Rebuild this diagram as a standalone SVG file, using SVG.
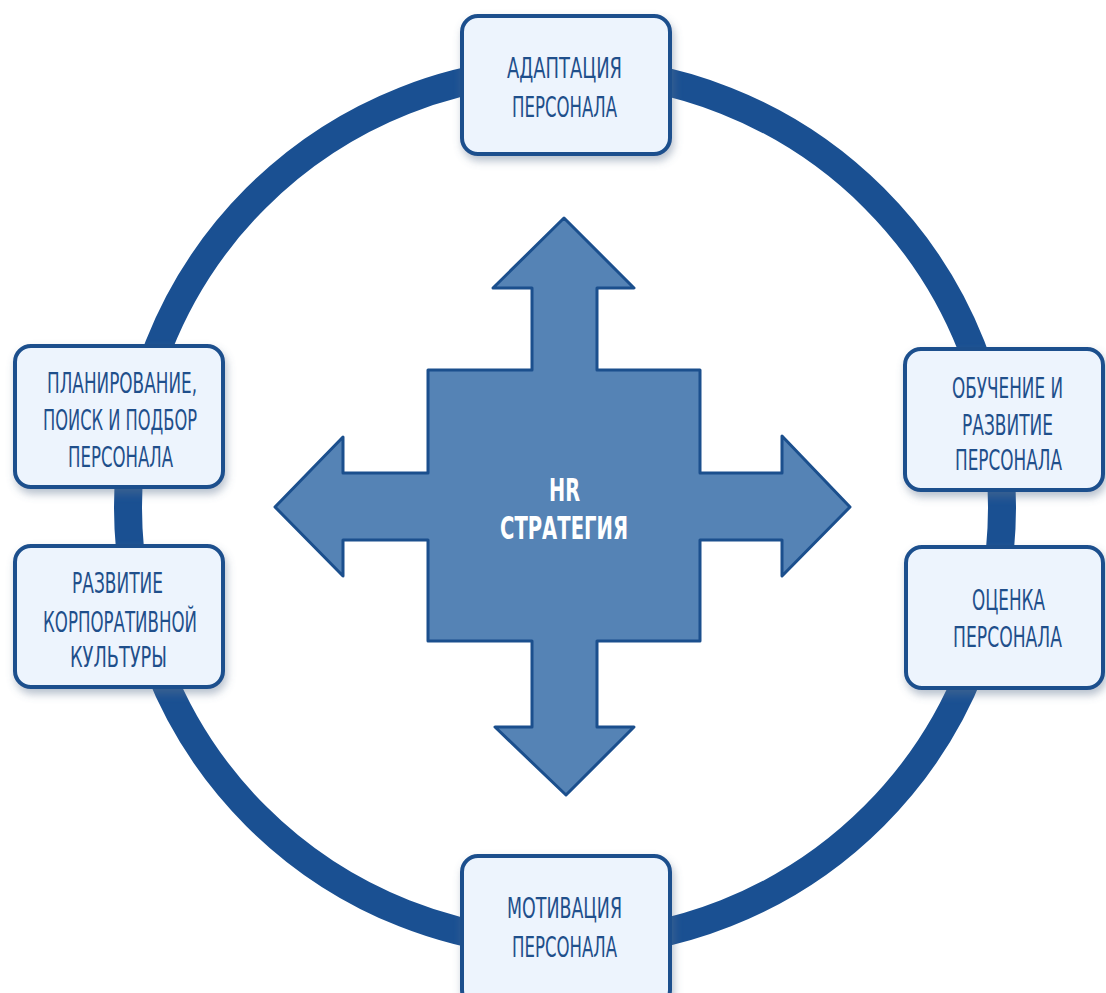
<svg xmlns="http://www.w3.org/2000/svg" width="1106" height="993" viewBox="0 0 1106 993">
  <defs>
    <filter id="boxShadow" x="-20%" y="-20%" width="140%" height="150%">
      <feDropShadow dx="2" dy="5" stdDeviation="4" flood-color="#5d7391" flood-opacity="0.45"/>
    </filter>
    <style>
      .ring { fill: none; stroke: #1a5092; stroke-width: 28; }
      .box { fill: #edf4fd; stroke: #1b4f8d; stroke-width: 4; filter: url(#boxShadow); }
      .label { font-family: "Liberation Sans Narrow", "DejaVu Sans Condensed", "Roboto", sans-serif; font-size: 28px; fill: #1f4f8b; text-anchor: middle; }
      .hub { fill: #5583b5; stroke: #1b4f8d; stroke-width: 3; stroke-linejoin: round; }
      .hubText { font-family: "Liberation Sans Narrow", "DejaVu Sans Condensed", "Roboto", sans-serif; font-size: 32px; font-weight: bold; fill: #ffffff; text-anchor: middle; }
    </style>
  </defs>

  <rect width="1106" height="993" fill="#ffffff"/>

  <!-- cycle ring linking the six areas -->
  <g id="connectors">
    <circle class="ring" cx="565" cy="507" r="437"/>
  </g>

  <!-- central four-way arrow -->
  <g id="hr-strategy">
    <path class="hub" d="M564,218 L634,288 L597,288 L597,370 L700,370 L700,473 L782,473 L782,436 L850,507 L782,576 L782,540 L700,540 L700,641 L597,641 L597,727 L634,727 L566,795 L495,727 L532,727 L532,641 L428,641 L428,540 L343,540 L343,576 L275,507 L343,437 L343,473 L428,473 L428,370 L532,370 L532,288 L493,288 Z"/>
    <text class="hubText" x="564.5" y="501" textLength="31" lengthAdjust="spacingAndGlyphs">HR</text>
    <text class="hubText" x="564" y="539" textLength="128" lengthAdjust="spacingAndGlyphs">СТРАТЕГИЯ</text>
  </g>

  <g id="adaptation">
    <rect class="box" x="462" y="16" width="208" height="138" rx="16"/>
    <text class="label" x="564.5" y="78" textLength="115" lengthAdjust="spacingAndGlyphs">АДАПТАЦИЯ</text>
    <text class="label" x="564.5" y="117" textLength="105" lengthAdjust="spacingAndGlyphs">ПЕРСОНАЛА</text>
  </g>

  <g id="planning">
    <rect class="box" x="15" y="346" width="208" height="141" rx="16"/>
    <text class="label" x="122" y="393" textLength="150" lengthAdjust="spacingAndGlyphs">ПЛАНИРОВАНИЕ,</text>
    <text class="label" x="120" y="430" textLength="154" lengthAdjust="spacingAndGlyphs">ПОИСК И ПОДБОР</text>
    <text class="label" x="120.5" y="467" textLength="105" lengthAdjust="spacingAndGlyphs">ПЕРСОНАЛА</text>
  </g>

  <g id="culture">
    <rect class="box" x="15" y="546" width="208" height="141" rx="16"/>
    <text class="label" x="117.5" y="593" textLength="91" lengthAdjust="spacingAndGlyphs">РАЗВИТИЕ</text>
    <text class="label" x="120" y="632" textLength="154" lengthAdjust="spacingAndGlyphs">КОРПОРАТИВНОЙ</text>
    <text class="label" x="118.5" y="667" textLength="97" lengthAdjust="spacingAndGlyphs">КУЛЬТУРЫ</text>
  </g>

  <g id="training">
    <rect class="box" x="905" y="349" width="198" height="141" rx="16"/>
    <text class="label" x="1007.5" y="398" textLength="111" lengthAdjust="spacingAndGlyphs">ОБУЧЕНИЕ И</text>
    <text class="label" x="1007.5" y="435" textLength="91" lengthAdjust="spacingAndGlyphs">РАЗВИТИЕ</text>
    <text class="label" x="1008.5" y="470" textLength="107" lengthAdjust="spacingAndGlyphs">ПЕРСОНАЛА</text>
  </g>

  <g id="assessment">
    <rect class="box" x="906" y="547" width="197" height="141" rx="16"/>
    <text class="label" x="1008.5" y="610" textLength="73" lengthAdjust="spacingAndGlyphs">ОЦЕНКА</text>
    <text class="label" x="1007.5" y="647" textLength="109" lengthAdjust="spacingAndGlyphs">ПЕРСОНАЛА</text>
  </g>

  <g id="motivation">
    <rect class="box" x="462" y="856" width="208" height="150" rx="16"/>
    <text class="label" x="564.5" y="918" textLength="115" lengthAdjust="spacingAndGlyphs">МОТИВАЦИЯ</text>
    <text class="label" x="564.5" y="957" textLength="105" lengthAdjust="spacingAndGlyphs">ПЕРСОНАЛА</text>
  </g>
</svg>
